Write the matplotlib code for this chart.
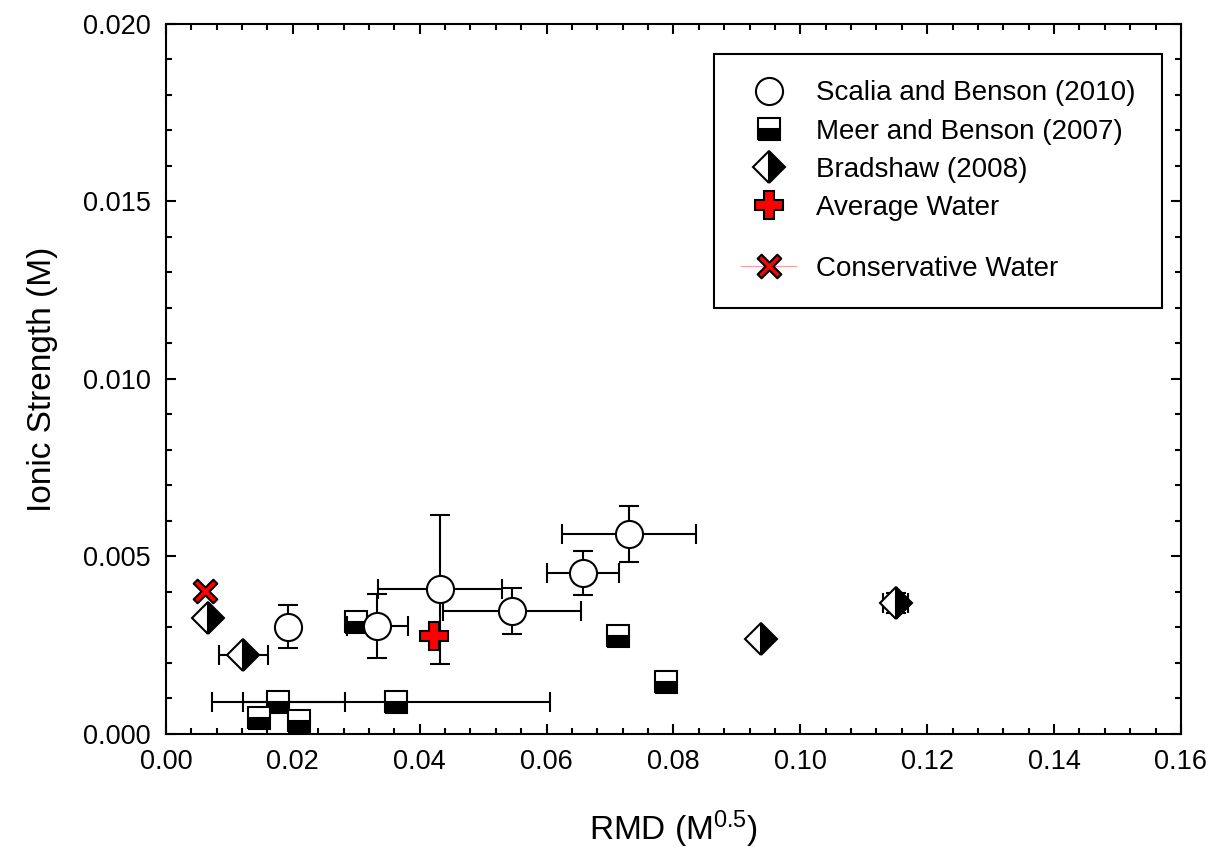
import matplotlib
matplotlib.use("Agg")
import numpy as np
import matplotlib.pyplot as plt
from matplotlib.path import Path
from matplotlib.ticker import MultipleLocator, FormatStrFormatter

plt.rcParams['font.family'] = ['Liberation Sans', 'DejaVu Sans']
plt.rcParams['mathtext.fontset'] = 'custom'
plt.rcParams['mathtext.rm'] = 'Liberation Sans'
plt.rcParams['mathtext.it'] = 'Liberation Sans:italic'
plt.rcParams['mathtext.bf'] = 'Liberation Sans:bold'

# Scalia and Benson (2010)
scalia_x = [0.0193, 0.0333, 0.0432, 0.0546, 0.0657, 0.0730]
scalia_y = [0.00302, 0.00304, 0.00407, 0.00346, 0.00453, 0.00563]
scalia_xerr = [0.0, 0.0048, 0.0097, 0.0109, 0.0057, 0.0105]
scalia_yerr = [0.0006, 0.0009, 0.0021, 0.00065, 0.00062, 0.00078]

# Meer and Benson (2007)
meer_x = [0.0147, 0.0177, 0.0210, 0.0300, 0.0363, 0.0713, 0.0789]
meer_y = [0.00046, 0.00091, 0.00037, 0.00316, 0.00089, 0.00277, 0.00147]
meer_xerr = [0.0, 0.0105, 0.0, 0.0, 0.0242, 0.0, 0.0]

# Bradshaw (2008)
brad_x = [0.0066, 0.0122, 0.0938, 0.1150]
brad_y = [0.00328, 0.00222, 0.00268, 0.00370]
brad_xerr = [0.0, 0.0039, 0.0, 0.0020]
brad_yerr = [0.0, 0.0, 0.0, 0.00028]

avg_x, avg_y = [0.0423], [0.00277]
cons_x, cons_y = [0.0061], [0.00403]

# thin-armed filled X marker
a, L = 0.1, 0.5
plus = np.array([(-a, -L), (a, -L), (a, -a), (L, -a), (L, a), (a, a), (a, L),
                 (-a, L), (-a, a), (-L, a), (-L, -a), (-a, -a), (-a, -L)])
c = np.cos(np.pi / 4)
rot = np.array([[c, -c], [c, c]])
x_marker = Path(plus @ rot.T, closed=True)

fig = plt.figure(figsize=(12.14, 8.5), dpi=100)
ax = fig.add_axes([0.1367, 0.1365, 0.8361, 0.8353])

err_kw = dict(ecolor='black', elinewidth=1.5, capsize=7.2, capthick=1.5, linestyle='none')
sq_kw = dict(marker='s', markersize=16, fillstyle='bottom', markerfacecolor='black',
             markerfacecoloralt='white', markeredgecolor='black', markeredgewidth=1.5)
ci_kw = dict(marker='o', markersize=19.5, markerfacecolor='white',
             markeredgecolor='black', markeredgewidth=1.5)
di_kw = dict(marker='D', markersize=16, fillstyle='right', markerfacecolor='black',
             markerfacecoloralt='white', markeredgecolor='black', markeredgewidth=1.5)

ax.errorbar(meer_x, meer_y, xerr=meer_xerr, zorder=2, **err_kw, **sq_kw)
ax.errorbar(scalia_x, scalia_y, xerr=scalia_xerr, yerr=scalia_yerr, zorder=3, **err_kw, **ci_kw)
ax.errorbar(brad_x, brad_y, xerr=brad_xerr, yerr=brad_yerr, zorder=4, **err_kw, **di_kw)

h_scalia, = ax.plot([], [], linestyle='none', **ci_kw)
h_meer, = ax.plot([], [], linestyle='none', **sq_kw)
h_brad, = ax.plot([], [], linestyle='none', **di_kw)
h_avg, = ax.plot(avg_x, avg_y, linestyle='none', marker='P', markersize=19.5, zorder=5,
                 markerfacecolor='red', markeredgecolor='black', markeredgewidth=1.5)
h_cons, = ax.plot(cons_x, cons_y, linestyle='-', color='#ff9a9a', linewidth=0.8,
                  marker=x_marker, markersize=17, zorder=5,
                  markerfacecolor='red', markeredgecolor='black', markeredgewidth=1.5)

ax.set_xlim(0, 0.16)
ax.set_ylim(0, 0.020)
ax.xaxis.set_major_locator(MultipleLocator(0.02))
ax.xaxis.set_minor_locator(MultipleLocator(0.004))
ax.yaxis.set_major_locator(MultipleLocator(0.005))
ax.yaxis.set_minor_locator(MultipleLocator(0.001))
ax.xaxis.set_major_formatter(FormatStrFormatter('%.2f'))
ax.yaxis.set_major_formatter(FormatStrFormatter('%.3f'))
ax.tick_params(which='both', direction='in', top=True, right=True, width=1.5)
ax.tick_params(which='major', length=7.5, labelsize=19.5, pad=11)
ax.tick_params(which='minor', length=4)
for sp in ax.spines.values():
    sp.set_linewidth(1.5)

ax.set_xlabel('RMD (M$^{0.5}$)', fontsize=24, labelpad=24)
ax.set_ylabel('Ionic Strength (M)', fontsize=24, labelpad=18)

leg = ax.legend([h_scalia, h_meer, h_brad, h_avg, h_cons],
                ['Scalia and Benson (2010)', 'Meer and Benson (2007)', 'Bradshaw (2008)',
                 'Average Water', '\nConservative Water'],
                loc='upper right', bbox_to_anchor=(0.981, 0.9577), borderaxespad=0,
                fontsize=20, fancybox=False, edgecolor='black', framealpha=1,
                borderpad=0.95, handlelength=2.0, handletextpad=0.7, labelspacing=0.44)
leg.get_frame().set_linewidth(1.5)
leg.get_texts()[4].set_linespacing(0.82)
# keep the marker on the text line of the two-line label
for col in leg._legend_handle_box.get_children():
    for row in col.get_children():
        row.get_children()[1]._multilinebaseline = False

fig.savefig('out.png', dpi=100)
